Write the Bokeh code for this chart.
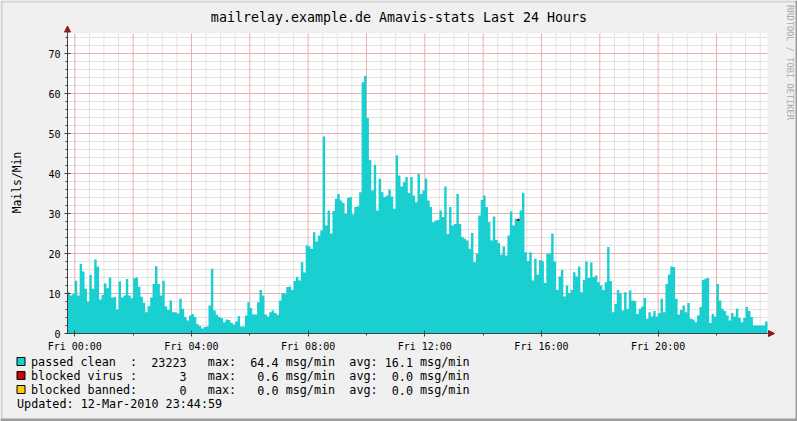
import math
from bokeh.plotting import figure
from bokeh.models import FixedTicker, BoxAnnotation, Arrow, NormalHead, Range1d
from bokeh.core.properties import value
from bokeh.embed import file_html
from bokeh.resources import INLINE

# ---------------- data ----------------
title_text = "mailrelay.example.de Amavis-stats Last 24 Hours"
y_axis_label = "Mails/Min"
side_text = "RRDTOOL / TOBI OETIKER"
updated_text = "Updated: 12-Mar-2010 23:44:59"

start_hour = -0.25          # Thu 23:45
step_minutes = 5
x_tick_hours = [0, 4, 8, 12, 16, 20]
x_tick_labels = ["Fri 00:00", "Fri 04:00", "Fri 08:00", "Fri 12:00", "Fri 16:00", "Fri 20:00"]
y_ticks = [0, 10, 20, 30, 40, 50, 60, 70]
y_max = 75

# passed clean, msg/min, one value per 5 minutes (Thu 23:45 .. Fri 23:45)
clean_part1 = [10.3, 9.5, 9.9, 13.2, 9.5, 17.4, 15.5, 11.2, 8, 14.7, 11.2, 18.5, 16.7, 8.5, 9.7,
               12.5, 11.3, 14, 9, 9.2, 6, 13, 9, 9.5, 13.6, 9.5, 8.8, 13.8, 14, 11.7, 9.2, 7.7,
               5.3, 6.8, 9, 12.4, 16.8, 12.4, 9.5, 13.2]
clean_part2 = [6.75, 5.9, 8.25, 5.3, 5.3, 5, 8.7, 6.2, 4.1, 3.25, 4.5, 4.9, 4.1, 2.4, 1.9, 1.25,
               1.6, 1.75, 7, 16.2, 5.75, 4.7, 4.1, 3.8, 2.8, 3.5, 3.4, 2.7, 2.25, 3, 4.3, 1.75,
               1.75, 4.5, 7.8, 6.4, 4.75, 4.75, 7.8, 10.9, 9.5]
clean_part3 = [4.75, 4.25, 5.3, 5.75, 5.1, 4.7, 8.25, 10.1, 9.9, 11.6, 11.75, 10.9, 13.1, 14.1,
               13.25, 17.8, 15.25, 22, 21.75, 21.2, 25.3, 23, 24.5, 25.75, 49.25, 27, 30.75, 25,
               30.6, 33.7, 34.9, 33.25, 32.6, 29.9, 33.9]
clean_part4 = [34.1, 29.75, 31.6, 31.8, 35.3, 62.8, 64.4, 53.9, 43.4, 35.75, 42.2, 30.75, 38.7,
               35.3, 34.1, 34.5, 36, 34.25, 31.2, 44.5, 39.5, 36.75, 37.8, 39.1, 35.1, 39.1, 34.5,
               32.8, 39.9, 34.9, 35.75, 38.7, 33.25, 31.6, 27.8, 28.25, 28.4, 30.75, 29.1, 36.75,
               24.9, 31.6, 27]
clean_part5 = [27.4, 34.9, 27.4, 24.1, 23.7, 23.25, 21.2, 25.1, 17.8, 19.9, 29.5, 33.4, 34.5,
               31.6, 27.8, 23.25, 29.25, 23.4, 22.6, 19.7, 21.75, 19.5, 24.5, 30.5, 27, 28.7,
               28.1, 30.75, 35.2, 20.3, 18.1, 20.3, 13.25, 18.7, 14.75, 18.4, 18.1, 12.6, 19.9]
clean_part6 = [20, 25, 18, 10.9, 14.25, 15.9, 9.25, 12, 10.1, 10.9, 15.3, 14.25, 16.75, 10.3,
               13.4, 18, 13.9, 17.75, 14.1, 14.5, 12.8, 12, 10.9, 12.8, 21.6, 13.1, 5.3, 7.4,
               10.9, 10.1, 5.75, 10.3, 6.2, 10.75, 8.25, 8.1, 4.9, 6.2, 6.75, 8.9, 3.7, 5.3, 4.25]
clean_part7 = [5.6, 4.25, 5.1, 8.7, 5.3, 12.4, 14.75, 16.75, 16.6, 8.7, 4.75, 5.9, 7, 5.3, 7.6,
               3.7, 3.5, 2.8, 4.5, 6.6, 13.4, 13.7, 13.9, 2.6, 4.9, 4.25, 12.4, 8.25, 6.2, 5.6,
               4.5, 3.25, 5.1, 4.25, 6.2, 3.9, 2.8, 3.9, 6.6, 5.6, 4.1, 2, 2, 2, 2, 2, 3]

virus_times = ["15:10"]
virus_values = [0.6]

legend_names = ["passed clean", "blocked virus", "blocked banned:"]
legend_colons = [True, True, False]
legend_totals = ["23223", "3", "0"]
legend_max = ["64.4", "0.6", "0.0"]
legend_avg = ["16.1", "0.0", "0.0"]
legend_colors = ["#19CFCF", "#CC0000", "#FFCC00"]

# ---------------- styles / layout ----------------
FONT = "DejaVu Sans Mono"
CYAN = "#19CFCF"
BG = "#F0F0F0"
AXIS = "#404040"
ARROW = "#8B1A1A"
W, H = 797, 421
PL, PT, PW, PH = 67, 33, 700, 300     # plot area in canvas pixels

clean = (clean_part1 + clean_part2 + clean_part3 + clean_part4 +
         clean_part5 + clean_part6 + clean_part7)
step_h = step_minutes / 60.0
n = len(clean)
x_end = start_hour + 24


def X(px):  # canvas pixel -> data x (hours)
    return start_hour + (px - PL) / PW * 24


def Y(py):  # canvas pixel -> data y (msg/min)
    return (PT + PH - py) / PH * y_max


p = figure(width=W, height=H, x_range=Range1d(X(0), X(W)), y_range=Range1d(Y(H), Y(0)),
           output_backend="svg", toolbar_location=None,
           min_border=0, min_border_left=0, min_border_right=0,
           min_border_top=0, min_border_bottom=0)
p.title.visible = False
p.background_fill_color = BG
p.border_fill_color = BG
p.outline_line_color = None
p.xgrid.visible = False
p.ygrid.visible = False

# plot-area background
p.add_layout(BoxAnnotation(left=start_hour, right=x_end, bottom=0, top=y_max,
                           fill_color="white", fill_alpha=1, line_color=None, level="underlay"))

# grid (drawn under the data)
minor_x = [h * 0.5 for h in range(0, 48) if h % 4 != 0]
major_x = list(range(0, 24, 2))
minor_y = [v for v in range(2, y_max, 2) if v % 10 != 0]
major_y = [v for v in y_ticks if v > 0]
p.segment(x0=minor_x, x1=minor_x, y0=[0] * len(minor_x), y1=[y_max] * len(minor_x),
          line_color="#E2E2E2", line_width=1)
p.segment(x0=[start_hour] * len(minor_y), x1=[x_end] * len(minor_y), y0=minor_y, y1=minor_y,
          line_color="#E2E2E2", line_width=1)
p.segment(x0=major_x, x1=major_x, y0=[0] * len(major_x), y1=[y_max] * len(major_x),
          line_color="#EBAEAE", line_width=1)
p.segment(x0=[start_hour] * len(major_y), x1=[x_end] * len(major_y), y0=major_y, y1=major_y,
          line_color="#EBAEAE", line_width=1)

# data area
xs = [start_hour + i * step_h for i in range(n)] + [start_hour + n * step_h]
ys = clean + [clean[-1]]
p.varea_step(x=xs, y1=[0] * len(xs), y2=ys, step_mode="after", fill_color=CYAN)

# blocked virus stacked on top
for t, v in zip(virus_times, virus_values):
    hh, mm = t.split(":")
    h = int(hh) + int(mm) / 60.0
    i = int(round((h - start_hour) / step_h))
    left = start_hour + i * step_h
    p.quad(left=[left], right=[left + step_h], bottom=[clean[i]], top=[clean[i] + v],
           fill_color="#800000", line_color=None)

# axes, placed inside the canvas-wide frame
p.xaxis.fixed_location = 0
p.xaxis.bounds = (start_hour, x_end)
p.yaxis.fixed_location = start_hour
p.yaxis.bounds = (0, y_max)
p.xaxis.ticker = FixedTicker(ticks=x_tick_hours, minor_ticks=list(range(0, 24, 2)))
p.xaxis.major_label_overrides = {h: lab for h, lab in zip(x_tick_hours, x_tick_labels)}
p.yaxis.ticker = FixedTicker(ticks=y_ticks, minor_ticks=list(range(0, y_max + 1, 2)))
for ax in (p.xaxis, p.yaxis):
    ax.axis_line_color = AXIS
    ax.major_tick_line_color = AXIS
    ax.minor_tick_line_color = AXIS
    ax.major_tick_in = 3
    ax.major_tick_out = 3
    ax.minor_tick_in = 0
    ax.minor_tick_out = 2
    ax.major_label_text_font = FONT
    ax.major_label_text_font_size = "10px"
    ax.major_label_text_color = "#000000"
    ax.major_label_standoff = 4

# arrows at the axis ends
p.add_layout(Arrow(end=NormalHead(size=6, fill_color=ARROW, line_color=ARROW),
                   x_start=start_hour, y_start=y_max, x_end=start_hour, y_end=Y(25.5),
                   line_color=AXIS, line_width=1))
p.add_layout(Arrow(end=NormalHead(size=6, fill_color=ARROW, line_color=ARROW),
                   x_start=x_end, y_start=0, x_end=X(774), y_end=0,
                   line_color=AXIS, line_width=1))

# title and side texts
p.text(x=[X(398.5)], y=[Y(17)], text=[title_text], text_font=value(FONT),
       text_font_size="13.3px", text_align="center", text_baseline="middle", text_color="#000000")
p.text(x=[X(16)], y=[Y(182)], text=[y_axis_label], text_font=value(FONT), angle=math.pi / 2,
       text_font_size="11.4px", text_align="center", text_baseline="middle", text_color="#000000")
p.text(x=[X(789)], y=[Y(62)], text=[side_text], text_font=value(FONT), angle=-math.pi / 2,
       text_font_size="8.7px", text_align="center", text_baseline="middle", text_color="#AAAAAA")

# legend (monospace columns)
LFS = 11.75
cw = 0.602 * LFS
lx0 = 30.5
row_y = [361.5, 375.5, 389.5]


def col(c):
    return X(lx0 + c * cw)


def put(xd, py, s, align="left"):
    p.text(x=[xd], y=[Y(py)], text=[s], text_font=value(FONT), text_font_size=f"{LFS}px",
           text_align=align, text_baseline="middle", text_color="#000000")


for k in range(3):
    py = row_y[k]
    p.quad(left=[X(16.5)], right=[X(24.5)], top=[Y(py - 4.5)], bottom=[Y(py + 3.5)],
           fill_color=legend_colors[k], line_color="#000000", line_width=1)
    put(col(0), py, legend_names[k])
    if legend_colons[k]:
        put(col(14), py, ":")
    put(col(22), py, legend_totals[k], "right")
    put(col(25), py, "max:")
    put(col(35), py, legend_max[k], "right")
    put(col(36), py, "msg/min")
    put(col(45), py, "avg:")
    put(col(54), py, legend_avg[k], "right")
    put(col(55), py, "msg/min")

put(X(16.5), 403, updated_text)

# 3D frame around the image
p.add_layout(BoxAnnotation(left=X(0), right=X(W), top=Y(0), bottom=Y(2),
                           fill_color="#D2D2D2", fill_alpha=1, line_color=None))
p.add_layout(BoxAnnotation(left=X(0), right=X(2), top=Y(0), bottom=Y(H),
                           fill_color="#D2D2D2", fill_alpha=1, line_color=None))
p.add_layout(BoxAnnotation(left=X(0), right=X(W), top=Y(H - 3), bottom=Y(H),
                           fill_color="#9C9C9C", fill_alpha=1, line_color=None))
p.add_layout(BoxAnnotation(left=X(W - 2), right=X(W), top=Y(0), bottom=Y(H),
                           fill_color="#9C9C9C", fill_alpha=1, line_color=None))

open("out.html", "w").write(file_html(p, INLINE))
